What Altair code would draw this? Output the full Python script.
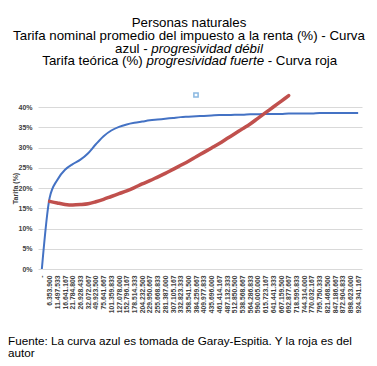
import altair as alt
import pandas as pd

categories = ["-", "6.353.900", "11.497.533", "16.641.167", "21.784.800", "26.928.433",
              "32.072.067", "49.923.500", "75.641.667", "101.359.833", "127.078.000",
              "152.796.167", "178.514.333", "204.232.500", "229.950.667", "255.668.833",
              "281.387.000", "307.105.167", "332.823.333", "358.541.500", "384.259.667",
              "409.977.833", "435.696.000", "461.414.167", "487.132.333", "512.850.500",
              "538.568.667", "564.286.833", "590.005.000", "615.723.167", "641.441.333",
              "667.159.500", "692.877.667", "718.595.833", "744.314.000", "770.032.167",
              "795.750.333", "821.468.500", "847.186.667", "872.904.833", "898.623.000",
              "924.341.167"]

blue_pct = [0.0, 17.5, 22.0, 24.5, 25.9, 27.0, 28.6, 30.8, 32.8, 34.2, 35.1,
            35.7, 36.1, 36.4, 36.7, 36.9, 37.1, 37.3, 37.5, 37.6, 37.7,
            37.8, 37.9, 38.0, 38.0, 38.1, 38.1, 38.2, 38.2, 38.3, 38.3,
            38.3, 38.4, 38.4, 38.4, 38.4, 38.5, 38.5, 38.5, 38.5, 38.5, 38.5]

red_pct = [None, 16.7, 16.3, 15.95, 15.8, 15.9, 16.1, 16.6, 17.2, 17.9, 18.6,
           19.3, 20.1, 21.0, 21.8, 22.7, 23.6, 24.6, 25.6, 26.6, 27.7,
           28.8, 29.9, 31.0, 32.2, 33.4, 34.6, 35.8, 37.2, 38.6, 40.0,
           41.4, 42.8, None, None, None, None, None, None, None, None, None]

y_ticks = [0, 5, 10, 15, 20, 25, 30, 35, 40]

rows = []
for c, b in zip(categories, blue_pct):
    rows.append({"cat": c, "serie": "azul", "tarifa": b / 100})
for c, r in zip(categories, red_pct):
    if r is not None:
        rows.append({"cat": c, "serie": "roja", "tarifa": r / 100})
df = pd.DataFrame(rows)

W, H = 324, 162
FONT = "Liberation Sans"
TXT = "#000000"
AX = "#404040"

x_enc = alt.X("cat:N", sort=categories,
              scale=alt.Scale(type="point", padding=0.5),
              axis=alt.Axis(title=None, labelAngle=-90, labelFontSize=6.8,
                            labelFontWeight="bold", labelFont=FONT, labelColor=AX,
                            labelPadding=6, ticks=False, domain=False, grid=False,
                            labelOverlap=False))
y_enc = alt.Y("tarifa:Q",
              scale=alt.Scale(domain=[0, 0.4], nice=False),
              axis=alt.Axis(values=[t / 100 for t in y_ticks], format=".0%",
                            title="Tarifa (%)", titleFontSize=7, titleFontWeight="bold",
                            titleFont=FONT, titleColor=AX, titleX=-23, titleY=81,
                            titleAngle=-90, titleAlign="center", titleBaseline="middle",
                            labelFontSize=7, labelFontWeight="bold", labelFont=FONT,
                            labelColor=AX, labelPadding=6, ticks=False, domain=False,
                            gridColor="#D9D9D9", gridWidth=1))

base = alt.Chart(df)
blue = base.transform_filter(alt.datum.serie == "azul").mark_line(
    color="#4472C4", strokeWidth=2, interpolate="monotone").encode(x=x_enc, y=y_enc)
red = base.transform_filter(alt.datum.serie == "roja").mark_line(
    color="#C0504D", strokeWidth=3.5, interpolate="monotone", strokeCap="round").encode(x=x_enc, y=y_enc)

one = pd.DataFrame({"k": [0]})

def txt(s, x, y, align="center", italic=False, size=13.3):
    return alt.Chart(one).mark_text(
        text=s, font=FONT, fontSize=size, fontStyle="italic" if italic else "normal",
        align=align, baseline="alphabetic", color=TXT
    ).encode(x=alt.value(x), y=alt.value(y))

title_layers = [
    txt("Personas naturales", 151, -80),
    txt("Tarifa nominal promedio del impuesto a la renta (%) - Curva", 151, -67),
    txt("azul -", 109.6, -54.5, align="right"),
    txt("progresividad débil", 113.3, -54.5, align="left", italic=True),
    txt("Tarifa teórica (%)", 104.8, -42, align="right"),
    txt("progresividad fuerte", 108.5, -42, align="left", italic=True),
    txt("- Curva roja", 229.7, -42, align="left"),
    txt("Fuente: La curva azul es tomada de Garay-Espitia. Y la roja es del", -30, 237.5, align="left", size=11.7),
    txt("autor", -30, 249.5, align="left", size=11.7),
]

icon = alt.Chart(one).mark_point(shape="square", size=18, filled=False,
                                 stroke="#5B9BD5", strokeWidth=1.5).encode(
    x=alt.value(158), y=alt.value(-12))

chart = alt.layer(blue, red, *title_layers, icon).properties(
    width=W, height=H,
    padding={"left": 30, "top": 99, "right": 7, "bottom": 89},
    autosize=alt.AutoSizeParams(type="none"),
    background="white",
).configure_view(stroke=None)

chart.save("out.html", embed_options={"renderer": "svg", "actions": False})
